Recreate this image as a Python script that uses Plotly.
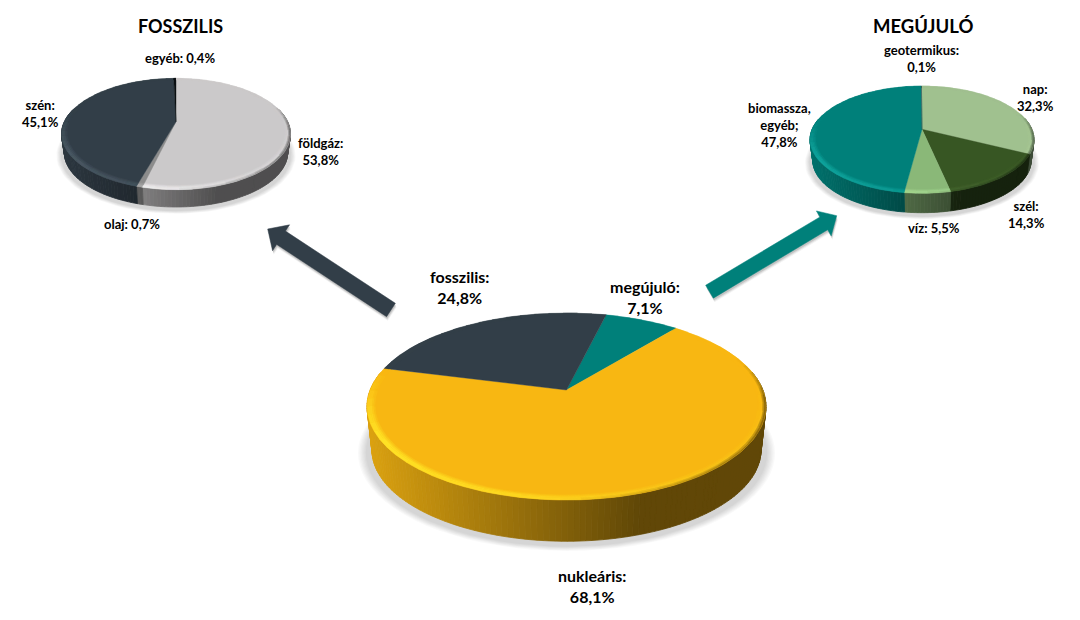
import math
import plotly.graph_objects as go

main_labels = ["megújuló", "nukleáris", "fosszilis"]
main_values = [7.1, 68.1, 24.8]
main_colors = ["#00807A", "#F8B712", "#323E48"]

fossil_labels = ["földgáz", "olaj", "szén", "egyéb"]
fossil_values = [53.8, 0.7, 45.1, 0.4]
fossil_colors = ["#CBC9CA", "#8C8C8C", "#323E48", "#0A0F12"]

renew_labels = ["nap", "szél", "víz", "biomassza, egyéb", "geotermikus"]
renew_values = [32.3, 14.3, 5.5, 47.8, 0.1]
renew_colors = ["#A0C18F", "#375623", "#8AB878", "#00807A", "#4A5A50"]

FONT = "Lato"


def hex2rgb(c):
    return tuple(int(c[i:i + 2], 16) for i in (1, 3, 5))


def mix(a, b, t):
    t = max(0, min(1, t))
    return tuple(a[i] + (b[i] - a[i]) * t for i in range(3))


def css(c):
    return "#%02X%02X%02X" % tuple(int(round(v)) for v in c)


fig = go.Figure()


def add_poly(layer, color, pts):
    d = layer.setdefault(color, ([], []))
    d[0].extend([p[0] for p in pts] + [pts[0][0], None])
    d[1].extend([p[1] for p in pts] + [pts[0][1], None])


def flush(layer, lw=0.8):
    for color, (xs, ys) in layer.items():
        fig.add_trace(go.Scatter(x=xs, y=ys, mode="lines", fill="toself", fillcolor=color,
                                 line=dict(color=color, width=lw), hoverinfo="skip", showlegend=False))


def draw_pie(values, colors, rot, cx, ay, rx, rear, front, depth, bevel):
    k = (front - rear) / (front + rear)
    B = rear * (1 + k)
    A = rx * math.sqrt(1 - k * k)

    def P(r, deg, dy=0.0, s=1.0):
        a = math.radians(deg)
        X, Y = r * math.sin(a), r * math.cos(a)
        w = 1 + k * Y
        return (cx + s * A * X / w, ay - s * B * Y / w + dy)

    total = sum(values)
    edges = [rot]
    for v in values:
        edges.append(edges[-1] + v / total * 360)

    # soft ground shadow
    for i in range(7):
        s = 1 + (7 - i) * 0.0065
        pts = [P(1, d, depth + 2, s) for d in range(0, 360, 4)]
        xs = [p[0] for p in pts] + [pts[0][0]]
        ys = [p[1] for p in pts] + [pts[0][1]]
        fig.add_trace(go.Scatter(x=xs, y=ys, mode="lines", fill="toself",
                                 fillcolor="rgba(0,0,0,0.022)", line=dict(width=0),
                                 hoverinfo="skip", showlegend=False))

    def slice_steps(a0, a1, step):
        n = max(1, int(math.ceil((a1 - a0) / step)))
        return [a0 + (a1 - a0) * j / n for j in range(n + 1)]

    # side wall
    side = {}
    for i, c in enumerate(colors):
        base = hex2rgb(c)
        st = slice_steps(edges[i], edges[i + 1], 1.5)
        for a, b in zip(st[:-1], st[1:]):
            m = (a + b) / 2
            if math.cos(math.radians(m)) > k + 0.02:
                continue
            p0, p1 = P(1, a), P(1, b)
            q0, q1 = P(1, b, depth, 0.975), P(1, a, depth, 0.975)
            t = ((p0[0] + p1[0]) / 2 - (cx - rx)) / (2 * rx)
            f = 0.88 - (t / 0.68) * 0.49 if t < 0.68 else 0.39
            col = css(tuple(v * f for v in base))
            add_poly(side, col, [p0, p1, q0, q1])
    flush(side)

    # top faces
    face = {}
    for i, c in enumerate(colors):
        st = slice_steps(edges[i], edges[i + 1], 2)
        add_poly(face, c, [P(0, 0)] + [P(1, a) for a in st])
    flush(face, 0.4)

    # bevelled rim: graded from the face colour out to a highlight at the edge
    rim = {}
    n_b = 5
    for i, c in enumerate(colors):
        base = hex2rgb(c)
        hi = tuple(min(255, v * 1.15 + 15) for v in base)
        lo = tuple(v * 0.45 for v in base)
        st = slice_steps(edges[i], edges[i + 1], 5)
        for a, b in zip(st[:-1], st[1:]):
            m = math.radians((a + b) / 2)
            X, Y = math.sin(m), math.cos(m)
            h = max(0.0, min(1.0, (0.2 - Y) / 0.7)) * (0.62 - 0.45 * X)
            d = max(0.0, min(1.0, (0.35 - Y) / 0.45)) * max(0.0, X) * 0.8
            for j in range(n_b):
                r0 = 1 - bevel * (n_b - j) / n_b
                r1 = 1 - bevel * (n_b - j - 1) / n_b
                w = (j + 1) / n_b
                col = mix(base, hi, h * min(1, w * 1.6))
                if j >= n_b - 2:
                    col = mix(col, lo, d * (j - n_b + 3) / 2)
                add_poly(rim, css(tuple(round(v / 3) * 3 if v < 252 else v for v in col)),
                         [P(r0, a), P(r0, b), P(r1, b), P(r1, a)])
    flush(rim, 0.3)


def arrow(tail, tip, shaft, head_w, head_l, color):
    dx, dy = tip[0] - tail[0], tip[1] - tail[1]
    L = math.hypot(dx, dy)
    ux, uy = dx / L, dy / L
    nx, ny = -uy, ux
    nk = (tip[0] - ux * head_l, tip[1] - uy * head_l)
    pts = [(tail[0] + nx * shaft / 2, tail[1] + ny * shaft / 2),
           (nk[0] + nx * shaft / 2, nk[1] + ny * shaft / 2),
           (nk[0] + nx * head_w / 2, nk[1] + ny * head_w / 2),
           tip,
           (nk[0] - nx * head_w / 2, nk[1] - ny * head_w / 2),
           (nk[0] - nx * shaft / 2, nk[1] - ny * shaft / 2),
           (tail[0] - nx * shaft / 2, tail[1] - ny * shaft / 2)]
    for off, alpha in ((4, 0.05), (3, 0.08), (2, 0.12)):
        fig.add_trace(go.Scatter(x=[p[0] + off * 0.3 for p in pts] + [pts[0][0] + off * 0.3],
                                 y=[p[1] + off for p in pts] + [pts[0][1] + off],
                                 mode="lines", fill="toself", fillcolor="rgba(0,0,0,%s)" % alpha,
                                 line=dict(width=0), hoverinfo="skip", showlegend=False))
    fig.add_trace(go.Scatter(x=[p[0] for p in pts] + [pts[0][0]], y=[p[1] for p in pts] + [pts[0][1]],
                             mode="lines", fill="toself", fillcolor=color, line=dict(color=color, width=0.5),
                             hoverinfo="skip", showlegend=False))


arrow((391, 310), (267.7, 229), 16, 31, 16, "#323E48")
arrow((709.5, 291.7), (836.7, 215.7), 15, 29, 15, "#00807A")

draw_pie(fossil_values, fossil_colors, 0, 176, 121.7, 114.5, 43.4, 68, 19, 0.05)
draw_pie(renew_values, renew_colors, 0, 922, 129.3, 112, 43.3, 64, 21, 0.05)
draw_pie(main_values, main_colors, 13.7, 566.5, 390, 199.5, 77, 110, 44, 0.04)


def fmt(v):
    return f"{v:.1f}".replace(".", ",") + "%"


def label(x, y, text, size):
    fig.add_annotation(x=x, y=y, text=text, showarrow=False, xref="x", yref="y", xanchor="center", yanchor="middle",
                       align="center", font=dict(family=FONT, size=size, color="#000000", weight="bold"))


label(180, 26, "FOSSZILIS", 18)
label(923, 26, "MEGÚJULÓ", 18.5)

label(180, 58, f"{fossil_labels[3]}: {fmt(fossil_values[3])}", 13)
label(40, 113.5, f"{fossil_labels[2]}:<br>{fmt(fossil_values[2])}", 13)
label(320, 151.5, f"{fossil_labels[0]}:<br>{fmt(fossil_values[0])}", 13)
label(132, 224, f"{fossil_labels[1]}: {fmt(fossil_values[1])}", 13)

label(921, 58, f"{renew_labels[4]}:<br>{fmt(renew_values[4])}", 13)
label(1035, 97, f"{renew_labels[0]}:<br>{fmt(renew_values[0])}", 13)
label(779, 125, "biomassza,<br>egyéb;<br>" + fmt(renew_values[3]), 13)
label(1026, 214, f"{renew_labels[1]}:<br>{fmt(renew_values[1])}", 13)
label(934, 228, f"{renew_labels[2]}: {fmt(renew_values[2])}", 13)

label(459, 286.5, f"{main_labels[2]}:<br>{fmt(main_values[2])}", 16)
label(645, 296.5, f"{main_labels[0]}:<br>{fmt(main_values[0])}", 16)
label(592, 585.5, f"{main_labels[1]}:<br>{fmt(main_values[1])}", 16)

# the page keeps the browser's 8 px body margin, so the pixel axes start at 8
fig.update_layout(
    width=1080, height=620, margin=dict(l=0, r=0, t=0, b=0),
    paper_bgcolor="#FFFFFF", plot_bgcolor="#FFFFFF", showlegend=False,
    xaxis=dict(range=[8, 1088], visible=False, fixedrange=True),
    yaxis=dict(range=[628, 8], visible=False, fixedrange=True),
)
fig.write_html("out.html", config={"displayModeBar": False})
